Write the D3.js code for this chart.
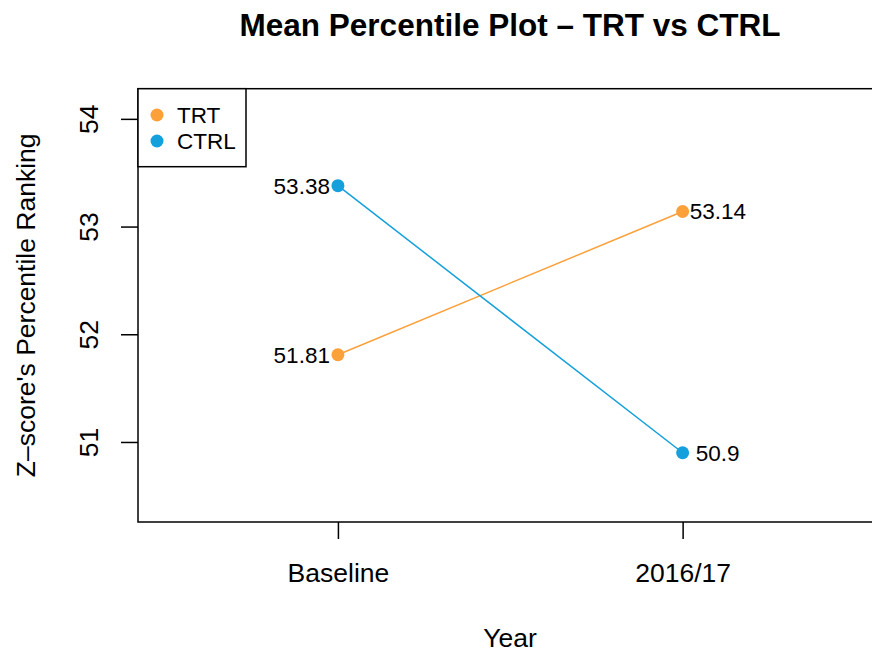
<!DOCTYPE html>
<html><head><meta charset="utf-8">
<script src="https://cdn.jsdelivr.net/npm/d3@7"></script>
<style>body{margin:0;background:#fff}svg{display:block;font-family:"Liberation Sans",Arial,sans-serif}</style>
</head><body>
<svg id="c" width="872" height="653"></svg>
<script>
const categories = ["Baseline", "2016/17"];
const trtValues = [51.81, 53.14];
const ctrlValues = [53.38, 50.9];
const trtLabels = ["51.81", "53.14"];
const ctrlLabels = ["53.38", "50.9"];
const yTicks = [51, 52, 53, 54];
const seriesNames = ["TRT", "CTRL"];
const colors = {TRT: "#FCA03A", CTRL: "#14A0DC"};

const svg = d3.select("#c");
const L = 138, T = 88.7, B = 522;
const x = d3.scaleLinear().domain([0.42, 2.58]).range([L, L + 2.16 * 344.7]);
const y = d3.scaleLinear().domain([50.257, 54.28]).range([B, T]);

// box
svg.append("rect").attr("x", L).attr("y", T).attr("width", x(2.58) - L).attr("height", B - T)
  .attr("fill", "none").attr("stroke", "#000").attr("stroke-width", 1.5);

// y axis
const ya = svg.append("g").attr("transform", `translate(${L},0)`)
  .call(d3.axisLeft(y).tickValues(yTicks).tickSize(17).tickPadding(0).tickFormat(d3.format("d")));
ya.select(".domain").remove();
ya.selectAll("line").attr("stroke", "#000").attr("stroke-width", 1.5);
ya.selectAll("text").remove();
ya.selectAll(".tick").append("text")
  .attr("transform", "translate(-40,0) rotate(-90)")
  .attr("text-anchor", "middle").attr("font-size", 26.5).attr("fill", "#000")
  .text(d => d);

// x axis
const xa = svg.append("g").attr("transform", `translate(0,${B})`)
  .call(d3.axisBottom(x).tickValues([1, 2]).tickSize(17).tickFormat((d, i) => categories[i]));
xa.select(".domain").remove();
xa.selectAll("line").attr("stroke", "#000").attr("stroke-width", 1.5);
xa.selectAll("text").attr("y", 60).attr("dy", null).attr("font-size", 26.5).attr("fill", "#000")
  .attr("font-family", "Liberation Sans, Arial, sans-serif");

// titles
svg.append("text").attr("x", 510).attr("y", 36).attr("text-anchor", "middle")
  .attr("font-size", 31.5).attr("font-weight", "bold").text("Mean Percentile Plot \u2013 TRT vs CTRL");
svg.append("text").attr("x", 510).attr("y", 647).attr("text-anchor", "middle")
  .attr("font-size", 26.5).text("Year");
svg.append("text").attr("transform", `translate(35,${(T + B) / 2}) rotate(-90)`).attr("text-anchor", "middle")
  .attr("font-size", 26.5).text("Z\u2013score's Percentile Ranking");

// lines and points
const line = d3.line().x((d, i) => x(i + 1)).y(d => y(d));
const series = [
  {name: "TRT", values: trtValues, labels: trtLabels},
  {name: "CTRL", values: ctrlValues, labels: ctrlLabels}
];
series.forEach(s => {
  svg.append("path").attr("d", line(s.values)).attr("fill", "none")
    .attr("stroke", colors[s.name]).attr("stroke-width", 1.5);
  svg.selectAll(null).data(s.values).enter().append("circle")
    .attr("cx", (d, i) => x(i + 1)).attr("cy", d => y(d)).attr("r", 6.5).attr("fill", colors[s.name]);
});
// value labels
series.forEach(s => {
  s.values.forEach((v, i) => {
    const left = i === 0;
    const dx = left ? -8 : (s.name === "CTRL" ? 13 : 7);
    svg.append("text").attr("x", x(i + 1) + dx).attr("y", y(v)).attr("dy", "0.35em")
      .attr("text-anchor", left ? "end" : "start").attr("font-size", 22.5).text(s.labels[i]);
  });
});

// legend
const lg = svg.append("g");
lg.append("rect").attr("x", L).attr("y", T).attr("width", 108).attr("height", 78)
  .attr("fill", "#fff").attr("stroke", "#000").attr("stroke-width", 1.5);
seriesNames.forEach((n, i) => {
  lg.append("circle").attr("cx", 157).attr("cy", 115 + i * 26).attr("r", 6.5).attr("fill", colors[n]);
  lg.append("text").attr("x", 177).attr("y", 115 + i * 26).attr("dy", "0.35em").attr("font-size", 22.5).text(n);
});
</script>
</body></html>
